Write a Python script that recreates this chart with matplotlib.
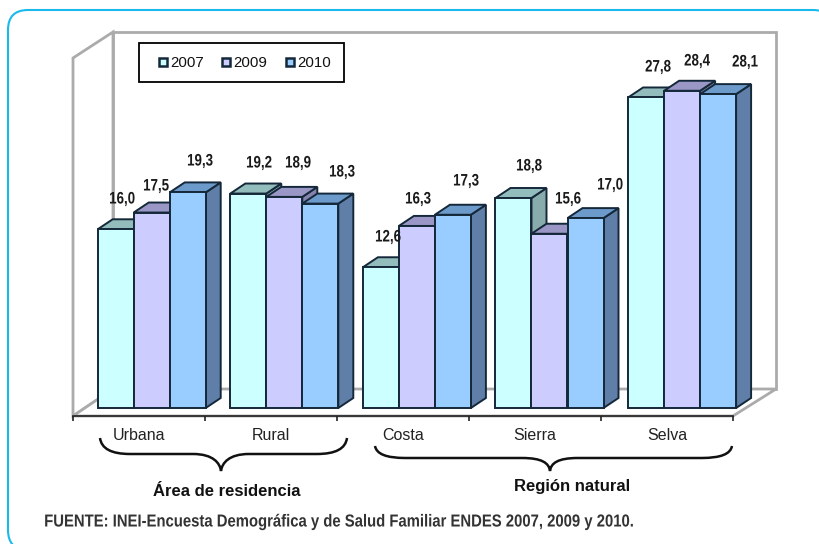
import numpy as np
import matplotlib
matplotlib.use('Agg')
import matplotlib.pyplot as plt
import matplotlib.patheffects as pe
from matplotlib.patches import Polygon, FancyBboxPatch, PathPatch, Rectangle
from matplotlib.path import Path
from matplotlib.transforms import Affine2D

# Data
categories = ['Urbana', 'Rural', 'Costa', 'Sierra', 'Selva']
years = ['2007', '2009', '2010']
values_2007 = [16.0, 19.2, 12.6, 18.8, 27.8]
values_2009 = [17.5, 18.9, 16.3, 15.6, 28.4]
values_2010 = [19.3, 18.3, 17.3, 17.0, 28.1]

front_colors = ['#CCFFFF', '#CCCCFF', '#99CCFF']
top_colors = ['#93BDBD', '#9A97C6', '#6C9BCB']
side_colors = ['#88ABAB', '#8583AD', '#5F7FA8']
edge = '#14283A'

# label centres in pixels, hand placed in the source chart
label_px = [
    [(122, 199), (259, 163), (388, 237), (529, 166), (658, 67)],
    [(156, 186), (298, 163), (418, 199), (568, 199), (697, 61)],
    [(200, 161), (342, 172), (466, 181), (610, 185), (745, 62)],
]

W, H = 819, 544
PX_X0, PX_CAT = 73, 132       # pixel of x=0, pixels per category
PX_Y0, PX_UNIT = 408, 11.17   # pixel of y=0, pixels per percent unit
arial = ['Liberation Sans', 'DejaVu Sans']


class Squeeze(pe.AbstractPathEffect):
    """Narrow the text horizontally, the narrow font of the source is not installed"""
    def __init__(self, sx, anchor='center'):
        super().__init__()
        self.sx = sx
        self.anchor = anchor

    def draw_path(self, renderer, gc, tpath, affine, rgbFace=None):
        ext = tpath.get_extents()
        x0 = ext.x0 if self.anchor == 'left' else (ext.x0 + ext.x1) / 2
        squeeze = Affine2D().translate(-x0, 0).scale(self.sx, 1).translate(x0, 0)
        renderer.draw_path(gc, tpath, squeeze + affine, rgbFace)


fig = plt.figure(figsize=(W / 100, H / 100), dpi=100)

# background layer in pixel coordinates
bg = fig.add_axes([0, 0, 1, 1], zorder=0)
bg.set_xlim(0, W)
bg.set_ylim(H, 0)
bg.axis('off')

bg.add_patch(FancyBboxPatch((8, 10), 825, 540, boxstyle='round,pad=0,rounding_size=20',
                            fc='white', ec='#19B9EC', lw=1.5))

# walls and floor
wall = '#ABABAB'
bg.add_patch(Polygon([(113, 32), (776, 32), (776, 389), (113, 389)], closed=True,
                     fc='white', ec=wall, lw=2))
bg.add_patch(Polygon([(73, 58), (113, 32), (113, 389), (73, 416)], closed=True,
                     fc='white', ec=wall, lw=2))
bg.add_patch(Polygon([(73, 416), (113, 389), (776, 389), (733, 416)], closed=True,
                     fc='white', ec=wall, lw=2))

# legend
bg.add_patch(Rectangle((139, 43), 205, 39, fc='white', ec='black', lw=1.3))
for i, (yr, x) in enumerate(zip(years, [158.5, 222, 285.5])):
    bg.add_patch(Rectangle((x, 58), 8, 8, fc=front_colors[i], ec='#14283A', lw=1.8))
    bg.text(x + 11.5, 63, yr, fontsize=10.8, family=arial, va='center', ha='left', color='#111111')

# braces
def brace(x0, xm, x1, y_top, y_mid, y_tip):
    verts = [(x0, y_top), (x0 + 2, y_mid), (x0 + 30, y_mid),
             (xm - 28, y_mid),
             (xm - 8, y_mid), (xm - 1, y_tip - 8), (xm, y_tip),
             (xm + 1, y_tip - 8), (xm + 8, y_mid), (xm + 28, y_mid),
             (x1 - 30, y_mid),
             (x1 - 2, y_mid), (x1, y_top)]
    codes = [Path.MOVETO, Path.CURVE3, Path.CURVE3,
             Path.LINETO,
             Path.CURVE4, Path.CURVE4, Path.CURVE4,
             Path.CURVE4, Path.CURVE4, Path.CURVE4,
             Path.LINETO,
             Path.CURVE3, Path.CURVE3]
    bg.add_patch(PathPatch(Path(verts, codes), fc='none', ec='#111111', lw=1.8))

brace(100, 221, 347, 438, 454, 471)
brace(375, 550, 732, 446, 458, 471)

bg.text(227, 491, 'Área de residencia', fontsize=12, fontweight='bold', family=arial,
        ha='center', va='center', color='#111111')
bg.text(572, 486, 'Región natural', fontsize=12, fontweight='bold', family=arial,
        ha='center', va='center', color='#111111')
bg.text(44, 522, 'FUENTE: INEI-Encuesta Demográfica y de Salud Familiar ENDES 2007, 2009 y 2010.',
        fontsize=12.5, fontweight='bold', family=arial, ha='left', va='center', color='#333333',
        path_effects=[Squeeze(0.856, 'left')])

# bars layer, x in categories and y in percent
ax = fig.add_axes([0, 0, 1, 1], zorder=1)
ax.patch.set_alpha(0)
ax.axis('off')
ax.set_xlim(-PX_X0 / PX_CAT, (W - PX_X0) / PX_CAT)
ax.set_ylim((PX_Y0 - H) / PX_UNIT, PX_Y0 / PX_UNIT)

bar_w = 36 / PX_CAT
dx, dy = 15 / PX_CAT, 10 / PX_UNIT
first_bar = 24.7 / PX_CAT     # gap from the tick to the first bar of a group
group_step = 132.6 / PX_CAT
series = [values_2007, values_2009, values_2010]

for c in range(len(categories)):
    for s, vals in enumerate(series):
        v = vals[c]
        left = c * group_step + first_bar + s * bar_w
        right = left + bar_w
        ax.add_patch(Polygon([(right, 0), (right + dx, dy), (right + dx, v + dy), (right, v)],
                             closed=True, fc=side_colors[s], ec=edge, lw=1.4, zorder=2 + c * 3 + s))
        ax.add_patch(Polygon([(left, v), (left + dx, v + dy), (right + dx, v + dy), (right, v)],
                             closed=True, fc=top_colors[s], ec=edge, lw=1.4, zorder=2 + c * 3 + s))
        ax.bar(left, v, bar_w, align='edge', color=front_colors[s], edgecolor=edge, lw=1.4,
               zorder=2 + c * 3 + s)

# front edge of the floor and ticks
floor_y = (PX_Y0 - 416) / PX_UNIT
tick_y = (PX_Y0 - 421) / PX_UNIT
ax.plot([0, len(categories)], [floor_y, floor_y], color='#222222', lw=1.2, zorder=30)
ax.vlines(np.arange(len(categories) + 1), tick_y, floor_y, color='#222222', lw=1.2, zorder=30)

cat_y = (PX_Y0 - 435) / PX_UNIT
for c, name in enumerate(categories):
    ax.text(c + 0.5, cat_y, name, fontsize=11.5, family=arial, ha='center', va='center',
            color='#222222', zorder=30)

# data labels
for s, vals in enumerate(series):
    for c, v in enumerate(vals):
        px, py = label_px[s][c]
        ax.text(px, py, f'{v:.1f}'.replace('.', ','), transform=bg.transData, fontsize=12,
                fontweight='bold', family=arial, ha='center', va='center', color='#1A1A1A', zorder=40,
                path_effects=[Squeeze(0.8)])

fig.savefig('out.png', dpi=100)
